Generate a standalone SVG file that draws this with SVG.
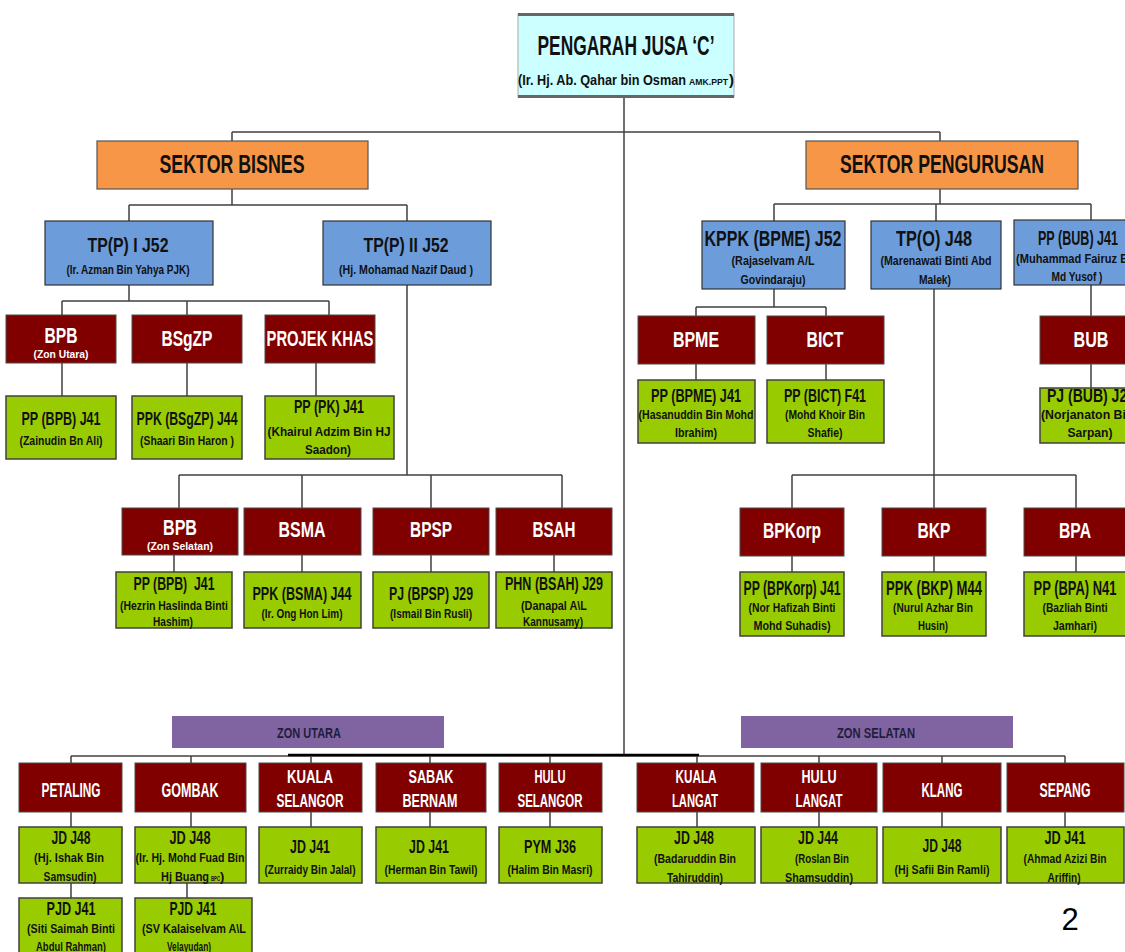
<svg xmlns="http://www.w3.org/2000/svg" width="1125" height="952" viewBox="0 0 1125 952">
<style>
text{font-family:"Liberation Sans Narrow","Liberation Sans",Arial,sans-serif;font-weight:bold;text-anchor:middle;fill:#111}
.st{text-anchor:start}
.r{fill:#800000;stroke:#4a4a4a;stroke-width:1}
.g{fill:#99cc00;stroke:#404040;stroke-width:1.5}
.b{fill:#6c9cda;stroke:#333;stroke-width:1.2}
.o{fill:#f79646;stroke:#555;stroke-width:1.2}
.p{fill:#8064a2}
.w{fill:#fff}
.t28{font-size:28px}.t25{font-size:25px}.t22{font-size:22px}.t21{font-size:21px}.t20{font-size:20px}.t19{font-size:19px}.t18{font-size:18px}
.s15{font-size:15px}.s13{font-size:13px}.s12{font-size:12.5px}.s11{font-size:11px}.z{font-size:14px;fill:#1e1e3c}
.ln{fill:none;stroke:#404040;stroke-width:1.5}
</style>
<rect width="1125" height="952" fill="#fff"/>
<g id="connectors" class="ln">
<path d="M624,98V755"/>
<path d="M232,132H940M232,132V141M940,132V141"/>
<path d="M232,188V205M129,205H407M129,205V221M407,205V221"/>
<path d="M129,285V301M62,301H329M62,301V315M187,301V315M329,301V315"/>
<path d="M62,363V396M187,363V396M316,363V396"/>
<path d="M407,285V475M179,475H562M179,475V508M302,475V508M431,475V508M562,475V508"/>
<path d="M174,555V572M302,555V572M431,555V572M554,555V572"/>
<path d="M940,188V204M774,204H1091M774,204V221M936,204V221M1091,204V220"/>
<path d="M774,289V307M696,307H826M696,307V316M826,307V316"/>
<path d="M696,364V380M826,364V380M1091,285V316M1091,364V388"/>
<path d="M934,289V475M792,475H1076M792,475V508M934,475V508M1076,475V508"/>
<path d="M792,556V572M934,556V572M1076,556V572"/>
<path d="M71,756H1065"/>
<path d="M288,755H699" stroke="#000" stroke-width="2.5"/>
<path d="M71,756V763M191,756V763M311,756V763M430,756V763M550,756V763M697,756V763M819,756V763M942,756V763M1065,756V763"/>
<path d="M71,812V827M191,812V827M311,812V827M430,812V827M550,812V827M697,812V827M819,812V827M942,812V827M1065,812V827"/>
<path d="M71,883V898M187,883V898"/>
</g>
<g id="pengarah">
<rect x="518" y="14" width="216" height="83" fill="#ccffff" stroke="#aaa" stroke-width="1"/>
<path d="M518,14.5H734M518,96.5H734" stroke="#666" stroke-width="3"/>
<text class="t28" x="626" y="55" textLength="177" lengthAdjust="spacingAndGlyphs">PENGARAH JUSA ‘C’</text>
<text class="s15 st" y="85"><tspan x="518" textLength="168" lengthAdjust="spacingAndGlyphs">(Ir. Hj. Ab. Qahar bin Osman</tspan><tspan x="689" font-size="9" textLength="39" lengthAdjust="spacingAndGlyphs">AMK.PPT</tspan><tspan x="729">)</tspan></text>
</g>
<g id="sektor-bisnes"><rect class="o" x="97" y="141" width="271" height="48"/><text class="t25" x="232" y="173" textLength="145" lengthAdjust="spacingAndGlyphs">SEKTOR BISNES</text></g>
<g id="sektor-pengurusan"><rect class="o" x="806" y="141" width="272" height="48"/><text class="t25" x="942" y="173" textLength="204" lengthAdjust="spacingAndGlyphs">SEKTOR PENGURUSAN</text></g>
<g id="tpp1"><rect class="b" x="45" y="221" width="168" height="64"/><text class="t21" x="128" y="252" textLength="81" lengthAdjust="spacingAndGlyphs">TP(P) I J52</text><text class="s12" x="128" y="274" textLength="123" lengthAdjust="spacingAndGlyphs">(Ir. Azman Bin Yahya PJK)</text></g>
<g id="tpp2"><rect class="b" x="323" y="221" width="168" height="64"/><text class="t21" x="406" y="252" textLength="85" lengthAdjust="spacingAndGlyphs">TP(P) II J52</text><text class="s12" x="406" y="274" textLength="134" lengthAdjust="spacingAndGlyphs">(Hj. Mohamad Nazif Daud )</text></g>
<g id="kppk"><rect class="b" x="702" y="221" width="143" height="68"/><text class="t22" x="773" y="246" textLength="137" lengthAdjust="spacingAndGlyphs">KPPK (BPME) J52</text><text class="s12" x="773" y="265" textLength="83" lengthAdjust="spacingAndGlyphs">(Rajaselvam A/L</text><text class="s12" x="773" y="284" textLength="65" lengthAdjust="spacingAndGlyphs">Govindaraju)</text></g>
<g id="tpo"><rect class="b" x="871" y="221" width="130" height="68"/><text class="t22" x="934" y="246" textLength="76" lengthAdjust="spacingAndGlyphs">TP(O) J48</text><text class="s12" x="936" y="265" textLength="111" lengthAdjust="spacingAndGlyphs">(Marenawati Binti Abd</text><text class="s12" x="935" y="284" textLength="32" lengthAdjust="spacingAndGlyphs">Malek)</text></g>
<g id="ppbub"><rect class="b" x="1014" y="220" width="130" height="65"/><text class="t20" x="1078" y="245" textLength="80" lengthAdjust="spacingAndGlyphs">PP (BUB) J41</text><text class="s12" x="1077" y="263" textLength="122" lengthAdjust="spacingAndGlyphs">(Muhammad Fairuz Bin</text><text class="s12" x="1077" y="281" textLength="51" lengthAdjust="spacingAndGlyphs">Md Yusof )</text></g>
<g id="bpb-utara"><rect class="r" x="6" y="315" width="110" height="48"/><text class="t22 w" x="61" y="343" textLength="33" lengthAdjust="spacingAndGlyphs">BPB</text><text class="s11 w" x="61" y="358" textLength="55" lengthAdjust="spacingAndGlyphs">(Zon Utara)</text></g>
<g id="bsgzp"><rect class="r" x="132" y="315" width="110" height="48"/><text class="t22 w" x="187" y="346" textLength="51" lengthAdjust="spacingAndGlyphs">BSgZP</text></g>
<g id="projek-khas"><rect class="r" x="265" y="315" width="110" height="48"/><text class="t22 w" x="320" y="346" textLength="107" lengthAdjust="spacingAndGlyphs">PROJEK KHAS</text></g>
<g id="bpme"><rect class="r" x="638" y="316" width="117" height="48"/><text class="t22 w" x="696" y="347" textLength="46" lengthAdjust="spacingAndGlyphs">BPME</text></g>
<g id="bict"><rect class="r" x="767" y="316" width="117" height="48"/><text class="t22 w" x="825" y="347" textLength="37" lengthAdjust="spacingAndGlyphs">BICT</text></g>
<g id="bub"><rect class="r" x="1040" y="316" width="102" height="48"/><text class="t22 w" x="1091" y="347" textLength="35" lengthAdjust="spacingAndGlyphs">BUB</text></g>
<g id="pp-bpb-utara"><rect class="g" x="6" y="396" width="110" height="63"/><text class="t19" x="61" y="425" textLength="79" lengthAdjust="spacingAndGlyphs">PP (BPB) J41</text><text class="s13" x="61" y="445" textLength="83" lengthAdjust="spacingAndGlyphs">(Zainudin Bn Ali)</text></g>
<g id="ppk-bsgzp"><rect class="g" x="132" y="396" width="110" height="63"/><text class="t19" x="187" y="425" textLength="101" lengthAdjust="spacingAndGlyphs">PPK (BSgZP) J44</text><text class="s13" x="187" y="445" textLength="94" lengthAdjust="spacingAndGlyphs">(Shaari Bin Haron )</text></g>
<g id="pp-pk"><rect class="g" x="265" y="396" width="129" height="63" stroke="#111" stroke-width="2"/><text class="t19" x="329" y="413" textLength="70" lengthAdjust="spacingAndGlyphs">PP (PK) J41</text><text class="s13" x="329" y="436" textLength="123" lengthAdjust="spacingAndGlyphs">(Khairul Adzim Bin HJ</text><text class="s13" x="328" y="454" textLength="46" lengthAdjust="spacingAndGlyphs">Saadon)</text></g>
<g id="pp-bpme"><rect class="g" x="638" y="380" width="117" height="63"/><text class="t19" x="696" y="402" textLength="90" lengthAdjust="spacingAndGlyphs">PP (BPME) J41</text><text class="s12" x="696" y="419" textLength="115" lengthAdjust="spacingAndGlyphs">(Hasanuddin Bin Mohd</text><text class="s12" x="696" y="437" textLength="42" lengthAdjust="spacingAndGlyphs">Ibrahim)</text></g>
<g id="pp-bict"><rect class="g" x="767" y="380" width="117" height="63"/><text class="t19" x="825" y="402" textLength="82" lengthAdjust="spacingAndGlyphs">PP (BICT) F41</text><text class="s12" x="825" y="419" textLength="80" lengthAdjust="spacingAndGlyphs">(Mohd Khoir Bin</text><text class="s12" x="825" y="437" textLength="35" lengthAdjust="spacingAndGlyphs">Shafie)</text></g>
<g id="pj-bub"><rect class="g" x="1040" y="388" width="102" height="55"/><text class="t19" x="1091" y="402" textLength="88" lengthAdjust="spacingAndGlyphs">PJ (BUB) J29</text><text class="s12" x="1091" y="419" textLength="100" lengthAdjust="spacingAndGlyphs">(Norjanaton Binti</text><text class="s12" x="1090" y="437" textLength="45" lengthAdjust="spacingAndGlyphs">Sarpan)</text></g>
<g id="bpb-selatan"><rect class="r" x="122" y="508" width="116" height="47"/><text class="t22 w" x="180" y="535" textLength="34" lengthAdjust="spacingAndGlyphs">BPB</text><text class="s11 w" x="180" y="550" textLength="66" lengthAdjust="spacingAndGlyphs">(Zon Selatan)</text></g>
<g id="bsma"><rect class="r" x="244" y="508" width="117" height="47"/><text class="t22 w" x="302" y="537" textLength="47" lengthAdjust="spacingAndGlyphs">BSMA</text></g>
<g id="bpsp"><rect class="r" x="373" y="508" width="116" height="47"/><text class="t22 w" x="431" y="537" textLength="42" lengthAdjust="spacingAndGlyphs">BPSP</text></g>
<g id="bsah"><rect class="r" x="496" y="508" width="116" height="47"/><text class="t22 w" x="554" y="537" textLength="43" lengthAdjust="spacingAndGlyphs">BSAH</text></g>
<g id="bpkorp"><rect class="r" x="740" y="508" width="104" height="48"/><text class="t22 w" x="792" y="538" textLength="58" lengthAdjust="spacingAndGlyphs">BPKorp</text></g>
<g id="bkp"><rect class="r" x="882" y="508" width="104" height="48"/><text class="t22 w" x="934" y="538" textLength="33" lengthAdjust="spacingAndGlyphs">BKP</text></g>
<g id="bpa"><rect class="r" x="1024" y="508" width="104" height="48"/><text class="t22 w" x="1075" y="538" textLength="32" lengthAdjust="spacingAndGlyphs">BPA</text></g>
<g id="pp-bpb-selatan"><rect class="g" x="116" y="572" width="116" height="56"/><text class="t19" x="174" y="590" textLength="81" lengthAdjust="spacingAndGlyphs" xml:space="preserve">PP (BPB)  J41</text><text class="s12" x="174" y="610" textLength="108" lengthAdjust="spacingAndGlyphs">(Hezrin Haslinda Binti</text><text class="s12" x="173" y="626" textLength="40" lengthAdjust="spacingAndGlyphs">Hashim)</text></g>
<g id="ppk-bsma"><rect class="g" x="244" y="572" width="117" height="56"/><text class="t19" x="302" y="600" textLength="99" lengthAdjust="spacingAndGlyphs">PPK (BSMA) J44</text><text class="s13" x="302" y="618" textLength="81" lengthAdjust="spacingAndGlyphs">(Ir. Ong Hon Lim)</text></g>
<g id="pj-bpsp"><rect class="g" x="373" y="572" width="116" height="56"/><text class="t19" x="431" y="600" textLength="84" lengthAdjust="spacingAndGlyphs">PJ (BPSP) J29</text><text class="s13" x="431" y="618" textLength="82" lengthAdjust="spacingAndGlyphs">(Ismail Bin Rusli)</text></g>
<g id="phn-bsah"><rect class="g" x="496" y="572" width="116" height="56"/><text class="t19" x="554" y="590" textLength="98" lengthAdjust="spacingAndGlyphs">PHN (BSAH) J29</text><text class="s12" x="554" y="610" textLength="66" lengthAdjust="spacingAndGlyphs">(Danapal A\L</text><text class="s12" x="553" y="626" textLength="60" lengthAdjust="spacingAndGlyphs">Kannusamy)</text></g>
<g id="pp-bpkorp"><rect class="g" x="740" y="572" width="104" height="64"/><text class="t20" x="792" y="595" textLength="97" lengthAdjust="spacingAndGlyphs">PP (BPKorp) J41</text><text class="s12" x="792" y="612" textLength="87" lengthAdjust="spacingAndGlyphs">(Nor Hafizah Binti</text><text class="s12" x="792" y="630" textLength="77" lengthAdjust="spacingAndGlyphs">Mohd Suhadis)</text></g>
<g id="ppk-bkp"><rect class="g" x="882" y="572" width="104" height="64"/><text class="t20" x="934" y="595" textLength="96" lengthAdjust="spacingAndGlyphs">PPK (BKP) M44</text><text class="s12" x="933" y="612" textLength="80" lengthAdjust="spacingAndGlyphs">(Nurul Azhar Bin</text><text class="s12" x="933" y="630" textLength="30" lengthAdjust="spacingAndGlyphs">Husin)</text></g>
<g id="pp-bpa"><rect class="g" x="1024" y="572" width="104" height="64"/><text class="t20" x="1075" y="595" textLength="83" lengthAdjust="spacingAndGlyphs">PP (BPA) N41</text><text class="s12" x="1075" y="612" textLength="65" lengthAdjust="spacingAndGlyphs">(Bazliah Binti</text><text class="s12" x="1075" y="630" textLength="44" lengthAdjust="spacingAndGlyphs">Jamhari)</text></g>
<g id="zon-utara"><rect class="p" x="172" y="716" width="272" height="32"/><text class="z" x="309" y="738" textLength="64" lengthAdjust="spacingAndGlyphs">ZON UTARA</text></g>
<g id="zon-selatan"><rect class="p" x="741" y="716" width="272" height="32"/><text class="z" x="876" y="738" textLength="78" lengthAdjust="spacingAndGlyphs">ZON SELATAN</text></g>
<g id="petaling"><rect class="r" x="19" y="763" width="103" height="49"/><text class="t20 w" x="71" y="797" textLength="59" lengthAdjust="spacingAndGlyphs">PETALING</text></g>
<g id="gombak"><rect class="r" x="135" y="763" width="111" height="49"/><text class="t20 w" x="190" y="797" textLength="57" lengthAdjust="spacingAndGlyphs">GOMBAK</text></g>
<g id="kuala-selangor"><rect class="r" x="259" y="763" width="103" height="49"/><text class="t18 w" x="310" y="783" textLength="46" lengthAdjust="spacingAndGlyphs">KUALA</text><text class="t18 w" x="310" y="807" textLength="67" lengthAdjust="spacingAndGlyphs">SELANGOR</text></g>
<g id="sabak-bernam"><rect class="r" x="376" y="763" width="110" height="49"/><text class="t18 w" x="431" y="783" textLength="45" lengthAdjust="spacingAndGlyphs">SABAK</text><text class="t18 w" x="430" y="807" textLength="55" lengthAdjust="spacingAndGlyphs">BERNAM</text></g>
<g id="hulu-selangor"><rect class="r" x="499" y="763" width="103" height="49"/><text class="t18 w" x="550" y="783" textLength="31" lengthAdjust="spacingAndGlyphs">HULU</text><text class="t18 w" x="550" y="807" textLength="65" lengthAdjust="spacingAndGlyphs">SELANGOR</text></g>
<g id="kuala-langat"><rect class="r" x="637" y="763" width="117" height="49"/><text class="t18 w" x="696" y="783" textLength="41" lengthAdjust="spacingAndGlyphs">KUALA</text><text class="t18 w" x="695" y="807" textLength="46" lengthAdjust="spacingAndGlyphs">LANGAT</text></g>
<g id="hulu-langat"><rect class="r" x="761" y="763" width="116" height="49"/><text class="t18 w" x="819" y="783" textLength="35" lengthAdjust="spacingAndGlyphs">HULU</text><text class="t18 w" x="819" y="807" textLength="47" lengthAdjust="spacingAndGlyphs">LANGAT</text></g>
<g id="klang"><rect class="r" x="883" y="763" width="118" height="49"/><text class="t20 w" x="942" y="797" textLength="41" lengthAdjust="spacingAndGlyphs">KLANG</text></g>
<g id="sepang"><rect class="r" x="1007" y="763" width="117" height="49"/><text class="t20 w" x="1065" y="797" textLength="51" lengthAdjust="spacingAndGlyphs">SEPANG</text></g>
<g id="jd-petaling"><rect class="g" x="19" y="827" width="103" height="56"/><text class="t19" x="71" y="844" textLength="39" lengthAdjust="spacingAndGlyphs">JD J48</text><text class="s13" x="69" y="862" textLength="70" lengthAdjust="spacingAndGlyphs">(Hj. Ishak Bin</text><text class="s13" x="70" y="881" textLength="53" lengthAdjust="spacingAndGlyphs">Samsudin)</text></g>
<g id="jd-gombak"><rect class="g" x="135" y="827" width="111" height="56"/><text class="t19" x="190" y="844" textLength="41" lengthAdjust="spacingAndGlyphs">JD J48</text><text class="s13" x="190" y="862" textLength="109" lengthAdjust="spacingAndGlyphs">(Ir. Hj. Mohd Fuad Bin</text><text class="s13 st" y="881"><tspan x="161" textLength="48" lengthAdjust="spacingAndGlyphs">Hj Buang</tspan><tspan x="211" font-size="8" textLength="9" lengthAdjust="spacingAndGlyphs">BPC</tspan><tspan x="220">)</tspan></text></g>
<g id="jd-kuala-selangor"><rect class="g" x="259" y="827" width="103" height="56"/><text class="t19" x="310" y="853" textLength="40" lengthAdjust="spacingAndGlyphs">JD J41</text><text class="s13" x="310" y="874" textLength="91" lengthAdjust="spacingAndGlyphs">(Zurraidy Bin Jalal)</text></g>
<g id="jd-sabak-bernam"><rect class="g" x="376" y="827" width="110" height="56"/><text class="t19" x="429" y="853" textLength="40" lengthAdjust="spacingAndGlyphs">JD J41</text><text class="s13" x="431" y="874" textLength="93" lengthAdjust="spacingAndGlyphs">(Herman Bin Tawil)</text></g>
<g id="pym-hulu-selangor"><rect class="g" x="499" y="827" width="103" height="56"/><text class="t19" x="550" y="853" textLength="52" lengthAdjust="spacingAndGlyphs">PYM J36</text><text class="s13" x="550" y="874" textLength="85" lengthAdjust="spacingAndGlyphs">(Halim Bin Masri)</text></g>
<g id="jd-kuala-langat"><rect class="g" x="637" y="827" width="118" height="56"/><text class="t19" x="694" y="844" textLength="40" lengthAdjust="spacingAndGlyphs">JD J48</text><text class="s13" x="695" y="863" textLength="82" lengthAdjust="spacingAndGlyphs">(Badaruddin Bin</text><text class="s13" x="695" y="882" textLength="56" lengthAdjust="spacingAndGlyphs">Tahiruddin)</text></g>
<g id="jd-hulu-langat"><rect class="g" x="761" y="827" width="116" height="56"/><text class="t19" x="818" y="844" textLength="40" lengthAdjust="spacingAndGlyphs">JD J44</text><text class="s13" x="822" y="863" textLength="54" lengthAdjust="spacingAndGlyphs">(Roslan Bin</text><text class="s13" x="819" y="882" textLength="68" lengthAdjust="spacingAndGlyphs">Shamsuddin)</text></g>
<g id="jd-klang"><rect class="g" x="883" y="827" width="118" height="56"/><text class="t19" x="942" y="852" textLength="39" lengthAdjust="spacingAndGlyphs">JD J48</text><text class="s13" x="942" y="874" textLength="95" lengthAdjust="spacingAndGlyphs">(Hj Safii Bin Ramli)</text></g>
<g id="jd-sepang"><rect class="g" x="1007" y="827" width="117" height="56"/><text class="t19" x="1065" y="844" textLength="41" lengthAdjust="spacingAndGlyphs">JD J41</text><text class="s13" x="1065" y="863" textLength="83" lengthAdjust="spacingAndGlyphs">(Ahmad Azizi Bin</text><text class="s13" x="1064" y="882" textLength="33" lengthAdjust="spacingAndGlyphs">Ariffin)</text></g>
<g id="pjd-petaling"><rect class="g" x="19" y="898" width="103" height="60"/><text class="t19" x="71" y="915" textLength="49" lengthAdjust="spacingAndGlyphs">PJD J41</text><text class="s13" x="71" y="933" textLength="88" lengthAdjust="spacingAndGlyphs">(Siti Saimah Binti</text><text class="s13" x="71" y="951" textLength="70" lengthAdjust="spacingAndGlyphs">Abdul Rahman)</text></g>
<g id="pjd-gombak"><rect class="g" x="135" y="898" width="117" height="60"/><text class="t19" x="193" y="915" textLength="47" lengthAdjust="spacingAndGlyphs">PJD J41</text><text class="s13" x="194" y="933" textLength="104" lengthAdjust="spacingAndGlyphs">(SV Kalaiselvam A\L</text><text class="s13" x="189" y="951" textLength="44" lengthAdjust="spacingAndGlyphs">Velayudan)</text></g>
<text id="page-number" x="1070" y="930" style="font-family:'Liberation Sans',Arial,sans-serif;font-weight:normal;font-size:31px;fill:#000">2</text>
</svg>
